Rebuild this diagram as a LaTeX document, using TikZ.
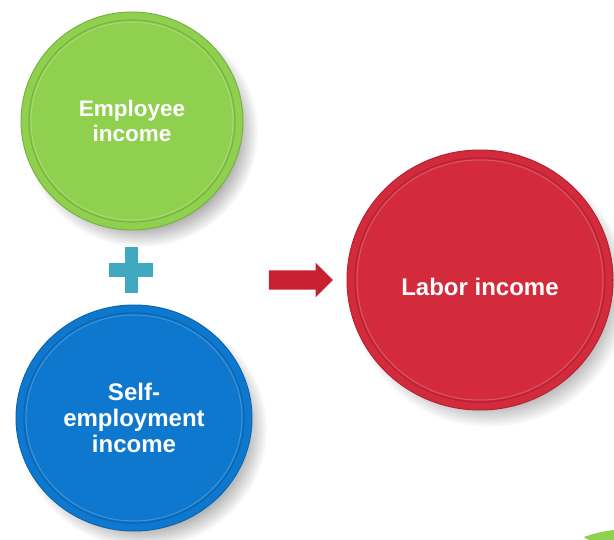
\documentclass[tikz,border=0pt]{standalone}
\usepackage{fontspec}
\setmainfont{Liberation Sans}
\usepackage{tikz}
\usetikzlibrary{shapes.geometric,shapes.arrows,fadings}

\definecolor{verde}{RGB}{143,208,78}
\definecolor{azul}{RGB}{14,120,206}
\definecolor{rojo}{RGB}{211,42,60}
\definecolor{mas}{RGB}{64,168,192}
\definecolor{flecha}{RGB}{200,32,48}

\begin{document}
\begin{tikzpicture}[x=1pt, y=-1pt, inner sep=0pt, text=white, align=center]
				\tikzset{coin/.style={ellipse, fill=#1, draw=#1!85!black, line width=1pt, font=\bfseries\fontsize{24}{26}\selectfont}}
				\tikzstyle{sombra}=[fill=black, opacity=.35, path fading=circle with fuzzy edge 20 percent]

				\useasboundingbox (0,0) rectangle (614,540);

				%SOMBRAS
				\foreach \x/\y/\rx/\ry in {132/121/111/109, 134/418/118/113, 480/280/133/130}
					\fill[sombra] (\x+9,\y+11) ellipse ({(\rx+6)*1pt} and {(\ry+6)*1pt});

				%MONEDAS
				\node[coin=verde, font=\bfseries\fontsize{22.5}{25}\selectfont, minimum width=222pt, minimum height=218pt]	(c0) at (132,121)	{Employee\\income};
				\node[coin=azul, minimum width=236pt, minimum height=226pt]	(c1) at (134,418)	{Self-\\employment\\income};
				\node[coin=rojo, text height=31pt, text depth=0pt, minimum width=266pt, minimum height=260pt]	(c2) at (480,280)	{Labor income};

				%BORDES
				\foreach \n/\rx/\ry in {c0/103/101, c1/110/105, c2/125/122}{
					\draw[black, opacity=.15, line width=1.2pt] (\n.center) ellipse ({\rx*1pt} and {\ry*1pt});
					\draw[white, opacity=.2, line width=1pt] (\n.center) ellipse ({(\rx-2)*1pt} and {(\ry-2)*1pt});
				}

				%SIGNOS
				\fill[mas] (124.5,247) rectangle (137.5,293);
				\fill[mas] (109,263) rectangle (153,277);
				\node[single arrow, fill=flecha, inner ysep=9.5pt, minimum height=64pt, minimum width=34pt, single arrow head extend=7.5pt]	(a0) at (296,280) {};

				%ESQUINA
				\fill[verde] (584,537) .. controls (595,533) and (605,531) .. (614,530) -- (614,540) -- (590,540) .. controls (586,539) .. (584,537) -- cycle;
\end{tikzpicture}
\end{document}
